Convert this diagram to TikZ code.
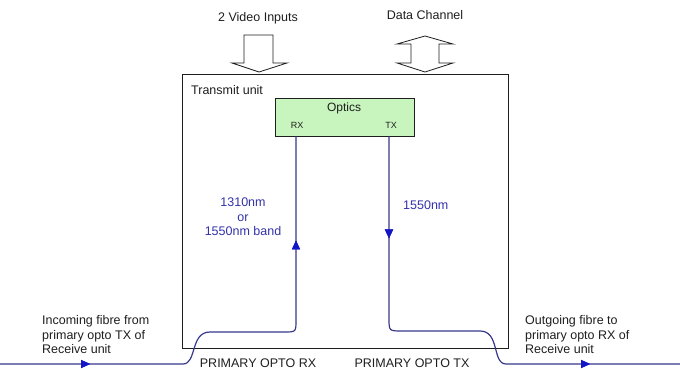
\documentclass[tikz,border=0pt]{standalone}
\usepackage{fontspec}
\setmainfont{Liberation Sans}
\usetikzlibrary{arrows.meta,decorations.markings}
\definecolor{fibreblue}{RGB}{55,55,140}
\definecolor{tipblue}{RGB}{20,20,200}
\definecolor{labelblue}{RGB}{50,50,170}
\definecolor{opticsgreen}{RGB}{200,245,190}
\definecolor{ink}{RGB}{30,30,30}
\begin{document}
\begin{tikzpicture}[x=1pt,y=-1pt,
  every node/.style={inner sep=0pt,font=\fontsize{12.5}{14.5}\selectfont,text=ink},
  lbl/.style={align=left,anchor=west},
  bluelbl/.style={text=labelblue,align=center},
  smalllbl/.style={font=\fontsize{9}{10}\selectfont},
  optlbl/.style={font=\fontsize{12}{14}\selectfont},
  unitbox/.style={draw=ink,line width=0.9pt,fill=none,minimum width=326pt,minimum height=274pt},
  opticsbox/.style={draw=ink,line width=0.9pt,fill=opticsgreen,minimum width=139pt,minimum height=38pt},
  blockarrow/.style={draw=ink,line width=0.8pt,fill=white,line join=miter},
  fibre/.style={draw=fibreblue,line width=1.2pt},
  tipA/.style={postaction={decorate},decoration={markings,
     mark=at position #1 with {\arrow[tipblue]{Triangle[length=9pt,width=8pt]}}}},
  tipB/.style={postaction={decorate},decoration={markings,
     mark=at position #1 with {\arrow[tipblue]{Triangle[length=9pt,width=8pt]}}}}
]
\useasboundingbox (0,0) rectangle (680,369);

% Transmit unit and optics
\node[unitbox] (tu) at (345,211) {};
\node[lbl] (tul) at (191,90) {Transmit unit};
\node[opticsbox] (opt) at (344.5,117) {};
\node[optlbl] (optl) at (344,108) {Optics};
\node[smalllbl] (rxl) at (297,125) {RX};
\node[smalllbl] (txl) at (391,125) {TX};

% Top labels
\node (vid) at (258,18) {2 Video Inputs};
\node (dat) at (425,15) {Data Channel};

% Video input block arrow
\draw[blockarrow] (244,35) -- (273,35) -- (273,63) -- (287,63) -- (259,72)
   -- (232,63) -- (244,63) -- cycle;
% Data channel double block arrow
\draw[blockarrow] (425,36) -- (453,44) -- (439,44) -- (439,63) -- (453,63)
   -- (425,72) -- (397,63) -- (411,63) -- (411,44) -- (397,44) -- cycle;

% Fibre coordinates
\coordinate (inL) at (0,364);
\coordinate (outR) at (680,364);
\coordinate (rxTop) at (opt.south -| 296,0);
\coordinate (txTop) at (opt.south -| 389,0);

% Incoming fibre to RX
\path[fibre,tipA=90pt,tipB=-104pt] (inL) -- (183,364)
   .. controls (197,364) and (190,332) .. (210,332)
   -- (284,332) .. controls (296,332) .. (296,320) -- (rxTop);

% Outgoing fibre from TX
\path[fibre,tipA=102pt,tipB=-90pt] (txTop) -- (389,318)
   .. controls (389,331) .. (402,331) -- (480,331)
   .. controls (500,331) and (492,364) .. (506,364) -- (outR);

% Fibre labels
\node[bluelbl] (l1310) at (243,217) {1310nm\\or\\1550nm band};
\node[bluelbl,anchor=west] (l1550) at (403,205) {1550nm};
\node (prx) at (258,363) {PRIMARY OPTO RX};
\node (ptx) at (412,363) {PRIMARY OPTO TX};
\node[lbl] (inlbl) at (42,335) {Incoming fibre from\\primary opto TX of\\Receive unit};
\node[lbl] (outlbl) at (525,335) {Outgoing fibre to\\primary opto RX of\\Receive unit};
\end{tikzpicture}
\end{document}
